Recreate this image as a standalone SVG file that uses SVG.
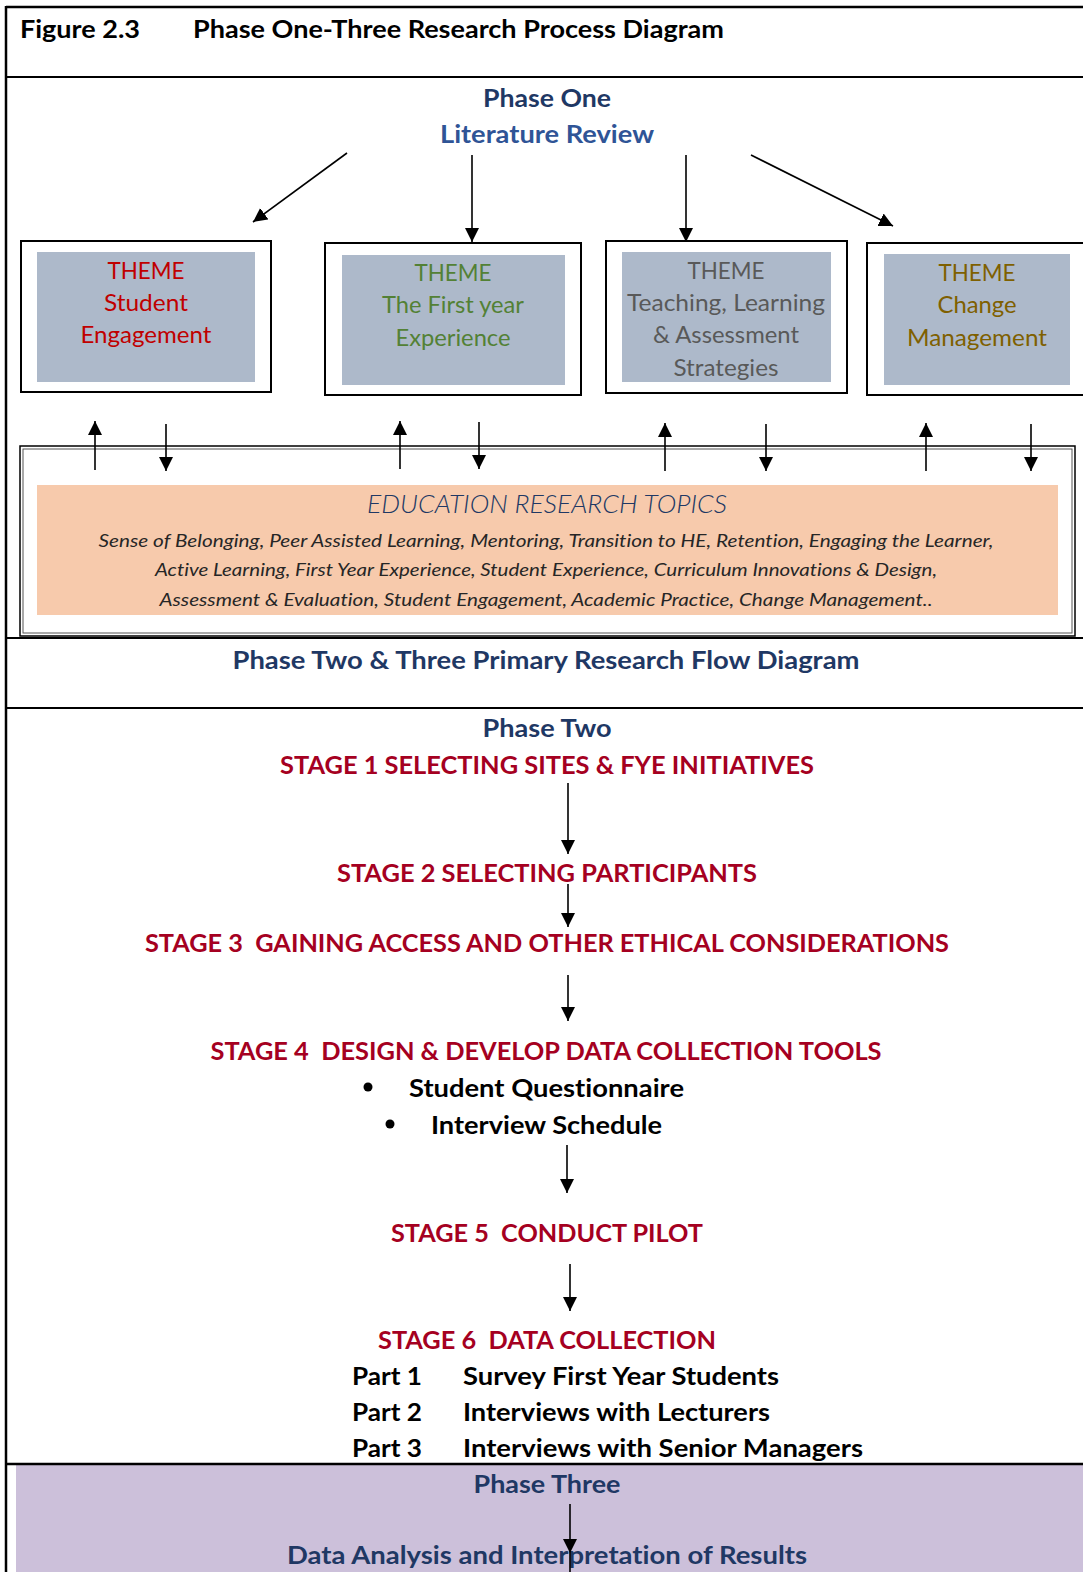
<svg xmlns="http://www.w3.org/2000/svg" width="1083" height="1572" viewBox="0 0 1083 1572">
  <defs>
    <marker id="head" markerUnits="userSpaceOnUse" markerWidth="14" markerHeight="16" refX="14" refY="7" orient="auto">
      <path d="M0,0 L14,7 L0,14 Z" fill="#000"/>
    </marker>
    <style>
      text { font-family: "Lato", "Open Sans", "Liberation Sans", sans-serif; text-anchor: middle; font-variant-ligatures: none; }
      text.start { text-anchor: start; }
      .navy { fill: #1F3864; font-weight: bold; font-size: 25px; }
      .lit { fill: #2F5496; font-weight: bold; font-size: 25px; }
      .stage { fill: #A50021; font-weight: bold; font-size: 25.5px; }
      .blk { fill: #000; font-weight: bold; font-size: 25px; }
      .theme { font-size: 23px; }
      .topic { fill: #262626; font-style: italic; font-size: 18px; }
      .frame { stroke: #000; fill: none; }
      .conn line { stroke: #000; stroke-width: 1.6; marker-end: url(#head); }
    </style>
  </defs>

  <rect x="0" y="0" width="1083" height="1572" fill="#fff"/>

  <!-- page frame and section rules -->
  <g id="frame">
    <rect x="16" y="1465" width="1067" height="107" fill="#CCC0DA"/>
    <line class="frame" x1="6" y1="7" x2="1083" y2="7" stroke-width="2.5"/>
    <line class="frame" x1="6" y1="6" x2="6" y2="1572" stroke-width="2.5"/>
    <line class="frame" x1="6" y1="77" x2="1083" y2="77" stroke-width="2.2"/>
    <line class="frame" x1="6" y1="638" x2="1083" y2="638" stroke-width="2.2"/>
    <line class="frame" x1="6" y1="708" x2="1083" y2="708" stroke-width="2.2"/>
    <line class="frame" x1="6" y1="1464" x2="1083" y2="1464" stroke-width="2.5"/>
  </g>

  <!-- heading -->
  <g id="title">
    <text x="20" y="38" class="blk start" font-size="24" textLength="120" lengthAdjust="spacingAndGlyphs">Figure 2.3</text>
    <text x="193" y="38" class="blk start" font-size="24" textLength="531" lengthAdjust="spacingAndGlyphs">Phase One-Three Research Process Diagram</text>
  </g>

  <g id="phase-one">
    <text x="547" y="107" class="navy" textLength="128" lengthAdjust="spacingAndGlyphs">Phase One</text>
    <text x="547" y="143" class="lit" textLength="214" lengthAdjust="spacingAndGlyphs">Literature Review</text>
  </g>

  <!-- theme boxes -->
  <g id="theme-student-engagement">
    <rect x="21" y="241" width="250" height="151" fill="#fff" stroke="#000" stroke-width="2"/>
    <rect x="37" y="252" width="218" height="130" fill="#ADB9CA"/>
    <g class="theme" fill="#C00000">
      <text x="146" y="279" textLength="77" lengthAdjust="spacingAndGlyphs">THEME</text>
      <text x="146" y="311" textLength="84" lengthAdjust="spacingAndGlyphs">Student</text>
      <text x="146" y="343" textLength="131" lengthAdjust="spacingAndGlyphs">Engagement</text>
    </g>
  </g>

  <g id="theme-first-year">
    <rect x="325" y="243" width="256" height="152" fill="#fff" stroke="#000" stroke-width="2"/>
    <rect x="342" y="255" width="223" height="130" fill="#ADB9CA"/>
    <g class="theme" fill="#538135">
      <text x="453" y="281" textLength="77" lengthAdjust="spacingAndGlyphs">THEME</text>
      <text x="453" y="313" textLength="142" lengthAdjust="spacingAndGlyphs">The First year</text>
      <text x="453" y="346" textLength="115" lengthAdjust="spacingAndGlyphs">Experience</text>
    </g>
  </g>

  <g id="theme-teaching">
    <rect x="606" y="241" width="241" height="152" fill="#fff" stroke="#000" stroke-width="2"/>
    <rect x="622" y="252" width="209" height="130" fill="#ADB9CA"/>
    <g class="theme" fill="#595959">
      <text x="726" y="279" textLength="77" lengthAdjust="spacingAndGlyphs">THEME</text>
      <text x="726" y="311" textLength="198" lengthAdjust="spacingAndGlyphs">Teaching, Learning</text>
      <text x="726" y="343" textLength="146" lengthAdjust="spacingAndGlyphs">&amp; Assessment</text>
      <text x="726" y="376" textLength="105" lengthAdjust="spacingAndGlyphs">Strategies</text>
    </g>
  </g>

  <g id="theme-change-management">
    <rect x="867" y="243" width="220" height="152" fill="#fff" stroke="#000" stroke-width="2"/>
    <rect x="884" y="254" width="186" height="131" fill="#ADB9CA"/>
    <g class="theme" fill="#7F6000">
      <text x="977" y="281" textLength="77" lengthAdjust="spacingAndGlyphs">THEME</text>
      <text x="977" y="313" textLength="79" lengthAdjust="spacingAndGlyphs">Change</text>
      <text x="977" y="346" textLength="140" lengthAdjust="spacingAndGlyphs">Management</text>
    </g>
  </g>

  <!-- research topics -->
  <g id="research-topics">
    <rect x="20" y="446" width="1055" height="190" fill="#fff" stroke="#000" stroke-width="1.5"/>
    <rect x="23" y="449" width="1049" height="184" fill="none" stroke="#555" stroke-width="1"/>
    <rect x="37" y="485" width="1021" height="130" fill="#F7CAAC"/>
    <text x="547" y="513" font-size="26" font-style="italic" fill="#203864" font-weight="300" textLength="360" lengthAdjust="spacingAndGlyphs">EDUCATION RESEARCH TOPICS</text>
    <text x="546" y="547" class="topic" textLength="895" lengthAdjust="spacingAndGlyphs">Sense of Belonging, Peer Assisted Learning, Mentoring, Transition to HE, Retention, Engaging the Learner,</text>
    <text x="546" y="576" class="topic" textLength="782" lengthAdjust="spacingAndGlyphs">Active Learning, First Year Experience, Student Experience, Curriculum Innovations &amp; Design,</text>
    <text x="546" y="606" class="topic" textLength="773" lengthAdjust="spacingAndGlyphs">Assessment &amp; Evaluation, Student Engagement, Academic Practice, Change Management..</text>
  </g>

  <g id="flow-heading">
    <text x="546" y="669" class="navy" font-size="26" textLength="627" lengthAdjust="spacingAndGlyphs">Phase Two &amp; Three Primary Research Flow Diagram</text>
  </g>

  <!-- phase two stages -->
  <g id="phase-two">
    <text x="547" y="737" class="navy" textLength="129" lengthAdjust="spacingAndGlyphs">Phase Two</text>
  </g>
  <g id="stage-1">
    <text x="547" y="774" class="stage" textLength="534" lengthAdjust="spacingAndGlyphs">STAGE 1 SELECTING SITES &amp; FYE INITIATIVES</text>
  </g>
  <g id="stage-2">
    <text x="547" y="882" class="stage" textLength="420" lengthAdjust="spacingAndGlyphs">STAGE 2 SELECTING PARTICIPANTS</text>
  </g>
  <g id="stage-3">
    <text x="547" y="952" class="stage" textLength="804" lengthAdjust="spacingAndGlyphs" xml:space="preserve">STAGE 3  GAINING ACCESS AND OTHER ETHICAL CONSIDERATIONS</text>
  </g>
  <g id="stage-4">
    <text x="546" y="1060" class="stage" textLength="671" lengthAdjust="spacingAndGlyphs" xml:space="preserve">STAGE 4  DESIGN &amp; DEVELOP DATA COLLECTION TOOLS</text>
    <circle cx="368" cy="1087" r="4.5" fill="#000"/>
    <text x="409" y="1097" class="blk start" textLength="275" lengthAdjust="spacingAndGlyphs">Student Questionnaire</text>
    <circle cx="390" cy="1124" r="4.5" fill="#000"/>
    <text x="431" y="1134" class="blk start" textLength="231" lengthAdjust="spacingAndGlyphs">Interview Schedule</text>
  </g>
  <g id="stage-5">
    <text x="547" y="1242" class="stage" textLength="312" lengthAdjust="spacingAndGlyphs" xml:space="preserve">STAGE 5  CONDUCT PILOT</text>
  </g>
  <g id="stage-6">
    <text x="547" y="1349" class="stage" textLength="338" lengthAdjust="spacingAndGlyphs" xml:space="preserve">STAGE 6  DATA COLLECTION</text>
    <text x="352" y="1385" class="blk start" textLength="70" lengthAdjust="spacingAndGlyphs">Part 1</text>
    <text x="463" y="1385" class="blk start" textLength="316" lengthAdjust="spacingAndGlyphs">Survey First Year Students</text>
    <text x="352" y="1421" class="blk start" textLength="70" lengthAdjust="spacingAndGlyphs">Part 2</text>
    <text x="463" y="1421" class="blk start" textLength="307" lengthAdjust="spacingAndGlyphs">Interviews with Lecturers</text>
    <text x="352" y="1457" class="blk start" textLength="70" lengthAdjust="spacingAndGlyphs">Part 3</text>
    <text x="463" y="1457" class="blk start" textLength="400" lengthAdjust="spacingAndGlyphs">Interviews with Senior Managers</text>
  </g>

  <!-- phase three -->
  <g id="phase-three">
    <text x="547" y="1493" class="navy" textLength="147" lengthAdjust="spacingAndGlyphs">Phase Three</text>
  </g>
  <g id="data-analysis">
    <text x="547" y="1564" class="navy" textLength="520" lengthAdjust="spacingAndGlyphs">Data Analysis and Interpretation of Results</text>
  </g>

  <!-- connectors -->
  <g id="connectors" class="conn">
    <!-- literature review to themes -->
    <line x1="347" y1="153" x2="253" y2="222"/>
    <line x1="472" y1="155" x2="472" y2="242"/>
    <line x1="686" y1="155" x2="686" y2="242"/>
    <line x1="751" y1="155" x2="893" y2="226"/>
    <!-- themes and research topics -->
    <line x1="95" y1="470" x2="95" y2="421"/>
    <line x1="166" y1="424" x2="166" y2="471"/>
    <line x1="400" y1="469" x2="400" y2="421"/>
    <line x1="479" y1="422" x2="479" y2="469"/>
    <line x1="665" y1="471" x2="665" y2="423"/>
    <line x1="766" y1="424" x2="766" y2="471"/>
    <line x1="926" y1="471" x2="926" y2="423"/>
    <line x1="1031" y1="424" x2="1031" y2="471"/>
    <!-- stage flow -->
    <line x1="568" y1="783" x2="568" y2="854"/>
    <line x1="568" y1="884" x2="568" y2="927"/>
    <line x1="568" y1="975" x2="568" y2="1021"/>
    <line x1="567" y1="1145" x2="567" y2="1193"/>
    <line x1="570" y1="1264" x2="570" y2="1311"/>
    <!-- phase three -->
    <line x1="570" y1="1504" x2="570" y2="1553"/>
    <line x1="570" y1="1553" x2="570" y2="1572" style="marker-end:none"/>
  </g>
</svg>
